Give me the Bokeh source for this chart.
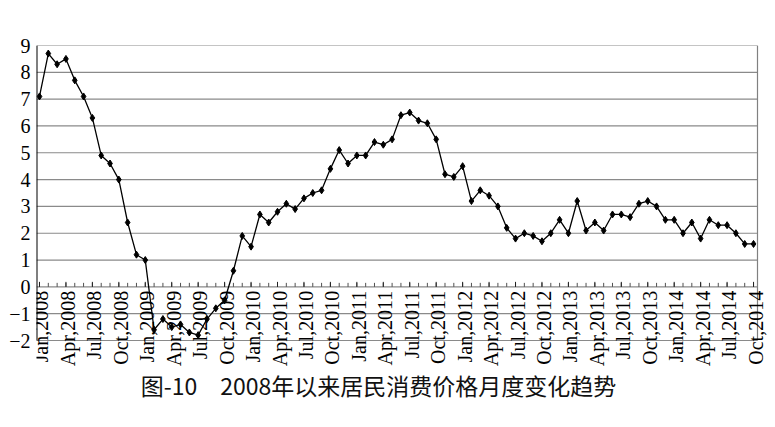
import math
from bokeh.plotting import figure
from bokeh.models import FixedTicker, Range1d, Label
from bokeh.embed import file_html
from bokeh.resources import INLINE

months = ["Jan", "Feb", "Mar", "Apr", "May", "Jun", "Jul", "Aug", "Sep", "Oct", "Nov", "Dec"]
years = [2008, 2009, 2010, 2011, 2012, 2013, 2014]

cpi = [
    7.1, 8.7, 8.3, 8.5, 7.7, 7.1, 6.3, 4.9, 4.6, 4.0, 2.4, 1.2,      # 2008
    1.0, -1.6, -1.2, -1.5, -1.4, -1.7, -1.8, -1.2, -0.8, -0.5, 0.6, 1.9,  # 2009
    1.5, 2.7, 2.4, 2.8, 3.1, 2.9, 3.3, 3.5, 3.6, 4.4, 5.1, 4.6,      # 2010
    4.9, 4.9, 5.4, 5.3, 5.5, 6.4, 6.5, 6.2, 6.1, 5.5, 4.2, 4.1,      # 2011
    4.5, 3.2, 3.6, 3.4, 3.0, 2.2, 1.8, 2.0, 1.9, 1.7, 2.0, 2.5,      # 2012
    2.0, 3.2, 2.1, 2.4, 2.1, 2.7, 2.7, 2.6, 3.1, 3.2, 3.0, 2.5,      # 2013
    2.5, 2.0, 2.4, 1.8, 2.5, 2.3, 2.3, 2.0, 1.6, 1.6,                # 2014 (Jan-Oct)
]

month_labels = [f"{m},{y}" for y in years for m in months][: len(cpi)]
y_ticks = list(range(-2, 10))
title_text = "图-10　2008年以来居民消费价格月度变化趋势"

x = list(range(len(cpi)))
major = list(range(0, len(cpi), 3))
major_labels = [month_labels[i] for i in major]

# geometry: the plot box is 721 x 295 px; the frame extends further so labels are not clipped
box_w, box_h = 721, 295
frame_w, frame_h = 739, 373
x0, x1 = -0.34, len(cpi) - 1 + 0.45
px_per_month = box_w / (x1 - x0)
px_per_unit = box_h / (y_ticks[-1] - y_ticks[0])
y_top = y_ticks[-1]
y_bottom = y_top - frame_h / px_per_unit
x_right = x0 + frame_w / px_per_month

p = figure(frame_width=frame_w, frame_height=frame_h, output_backend="svg", toolbar_location=None,
           x_range=Range1d(x0, x_right), y_range=Range1d(y_bottom, y_top),
           min_border_left=36, min_border_right=0, min_border_top=45, min_border_bottom=9)

p.background_fill_color = "white"
p.border_fill_color = "white"
p.outline_line_color = None
p.grid.visible = False

# y axis labels only
p.yaxis.ticker = FixedTicker(ticks=y_ticks)
p.yaxis.major_label_overrides = {t: (str(t).replace("-", "\u2212")) for t in y_ticks}
p.yaxis.major_label_text_font = "Liberation Serif"
p.yaxis.major_label_text_font_size = "20px"
p.yaxis.major_label_text_color = "black"
p.yaxis.axis_line_color = None
p.yaxis.major_tick_out = 0
p.yaxis.major_tick_in = 0
p.yaxis.minor_tick_out = 0
p.yaxis.minor_tick_in = 0
p.yaxis.major_label_standoff = 6

p.xaxis.visible = False

# horizontal grid lines inside the plot box
p.segment(x0=[x0] * len(y_ticks), y0=y_ticks, x1=[x1] * len(y_ticks), y1=y_ticks,
          line_color="#8a8a8a", line_width=1.2)

# frame borders (left black axis, right grey border)
p.segment(x0=[x1], y0=[y_ticks[0]], x1=[x1], y1=[y_ticks[-1]], line_color="#808080", line_width=1.2)
p.segment(x0=[x0], y0=[y_ticks[0]], x1=[x0], y1=[y_ticks[-1]], line_color="black", line_width=2)

# month ticks on the zero line
p.ray(x=x, y=[0] * len(x), length=4, length_units="screen", angle=math.pi / 2,
      line_color="#505050", line_width=1)
p.ray(x=major, y=[0] * len(major), length=5, length_units="screen", angle=math.pi / 2,
      line_color="#202020", line_width=1)

# vertical month labels hanging below the zero line
p.text(x=major, y=[0] * len(major), text=major_labels, angle=math.pi / 2,
       text_align="right", text_baseline="middle", y_offset=4, x_offset=2,
       text_font={"value": "Liberation Serif"}, text_font_size={"value": "20px"},
       text_color="black")

p.line(x, cpi, line_color="black", line_width=1.3)
p.scatter(x, cpi, marker="diamond", size=7, fill_color="black", line_color="black")

title = Label(x=342, y=34, x_units="screen", y_units="screen", text=title_text,
              text_align="center", text_baseline="middle",
              text_font="Noto Sans CJK SC", text_font_size="23px", text_color="#111111")
p.add_layout(title)

open("out.html", "w").write(file_html(p, INLINE))
